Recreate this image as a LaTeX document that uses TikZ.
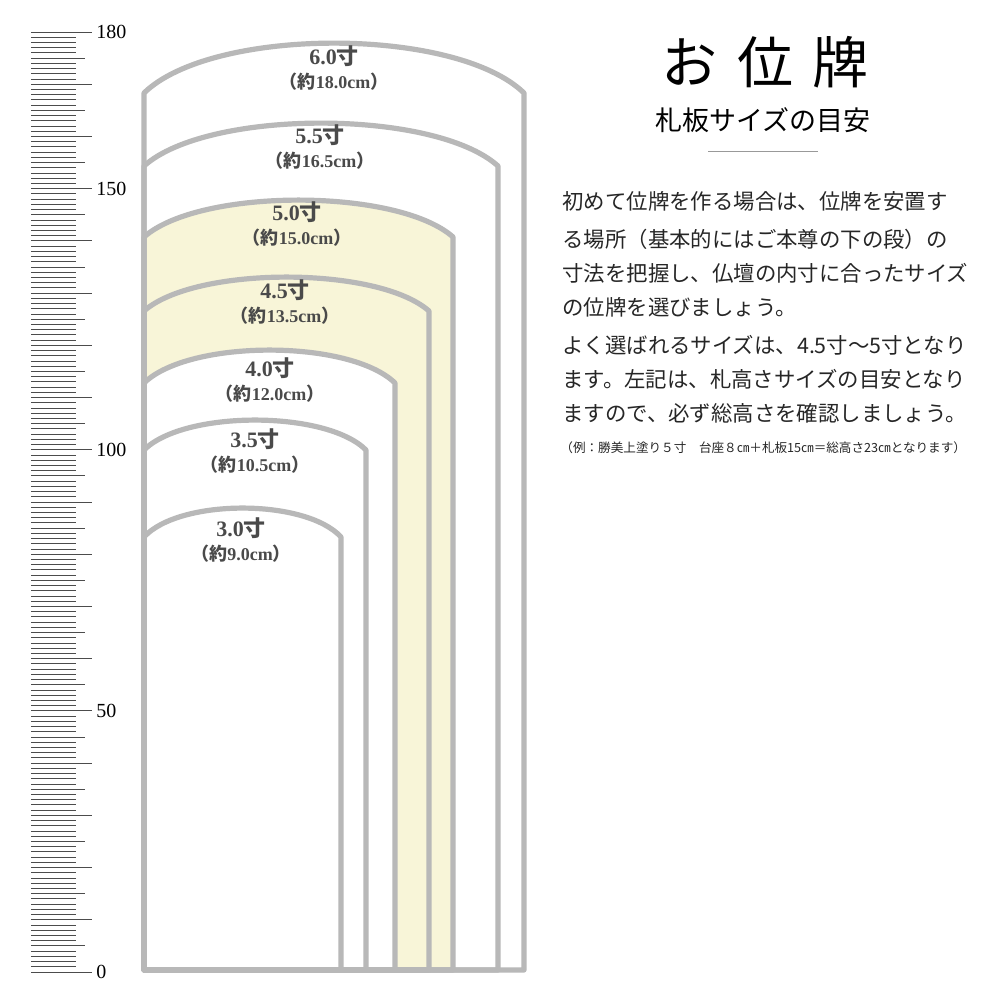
\documentclass[tikz,border=0pt]{standalone}
\usepackage{fontspec}
\newfontfamily\jp{Noto Sans CJK JP}
\newfontfamily\lat{Liberation Serif}
\definecolor{edge}{HTML}{B8B8B8}
\definecolor{cream}{HTML}{F8F5D8}
\definecolor{txt}{HTML}{4A4A4A}
\begin{document}
\begin{tikzpicture}[x=0.5pt,y=-0.5pt,
  lab/.style={text=txt,font=\lat\bfseries\fontsize{11}{11}\selectfont,inner sep=0},
  sub/.style={text=txt,font=\lat\bfseries\fontsize{9}{9}\selectfont,inner sep=0},
  body/.style={anchor=west,inner sep=0,font=\jp\fontsize{10.7}{12}\selectfont,text=black!85}]
\useasboundingbox (0,0) rectangle (1000,1000);
\fill[white] (0,0) rectangle (1000,1000);
% ruler
\foreach \i in {0,...,180}{
  \pgfmathsetmacro{\yy}{972-\i*5.222}
  \pgfmathsetmacro{\ll}{mod(\i,10)==0 ? 92 : (mod(\i,5)==0 ? 85 : 76)}
  \draw[line width=0.5pt,black!70] (31,\yy) -- (\ll,\yy);
}
\foreach \v/\yy in {180/32,150/189,100/450,50/711,0/972}
  \node[anchor=west,inner sep=0,font=\lat\fontsize{10}{10}\selectfont] (r\v) at (96,\yy) {\v};
\newcommand\tabl[3]{(144,970) -- (144,#2) .. controls ({144+0.18*(#1-144)},{#2-1.33*(#2-#3)}) and ({#1-0.18*(#1-144)},{#2-1.33*(#2-#3)}) .. (#1,#2) -- (#1,970) -- cycle}
\fill[cream] \tabl{453}{237}{200};
\fill[white] \tabl{395}{383}{350};
\foreach \r/\s/\p in {524/93/43,498/166/123,453/237/200,429/311/277,395/383/350,366/450/420,341/537/508}
  \draw[edge,line width=2.6pt,line join=round] \tabl{\r}{\s}{\p};
\foreach \n/\x/\a/\b/\c in {a/334/56/6.0/18.0,b/320/135/5.5/16.5,c/297/212/5.0/15.0,d/285/290/4.5/13.5,e/270/368/4.0/12.0,f/255/439/3.5/10.5,g/241/528/3.0/9.0}{
  \node[lab] (t\n) at (\x,\a) {\b{\jp\bfseries 寸}};
  \node[sub] (s\n) at (\x,\a+26) {{\jp （約}\c cm{\jp ）}};
}
\node[inner sep=0,font=\jp\fontsize{28}{28}\selectfont] (title) at (765,62) {お\hspace{0.35em}位\hspace{0.35em}牌};
\node[inner sep=0,font=\jp\fontsize{13.5}{14}\selectfont] (subt) at (763,120) {札板サイズの目安};
\draw[black!40,line width=0.5pt] (708,152) -- (818,152);
\node[body] (l1) at (562,201) {初めて位牌を作る場合は、位牌を安置す};
\node[body] (l2) at (562,239) {る場所（基本的にはご本尊の下の段）の};
\node[body] (l3) at (562,273) {寸法を把握し、仏壇の内寸に合ったサイズ};
\node[body] (l4) at (562,307) {の位牌を選びましょう。};
\node[body] (l5) at (562,345) {よく選ばれるサイズは、4.5寸～5寸となり};
\node[body] (l6) at (562,379) {ます。左記は、札高さサイズの目安となり};
\node[body] (l7) at (562,413) {ますので、必ず総高さを確認しましょう。};
\node[body,font=\jp\fontsize{6.3}{7}\selectfont] (l8) at (560,448) {（例：勝美上塗り５寸　台座８㎝＋札板15㎝＝総高さ23㎝となります）};
\end{tikzpicture}
\end{document}
